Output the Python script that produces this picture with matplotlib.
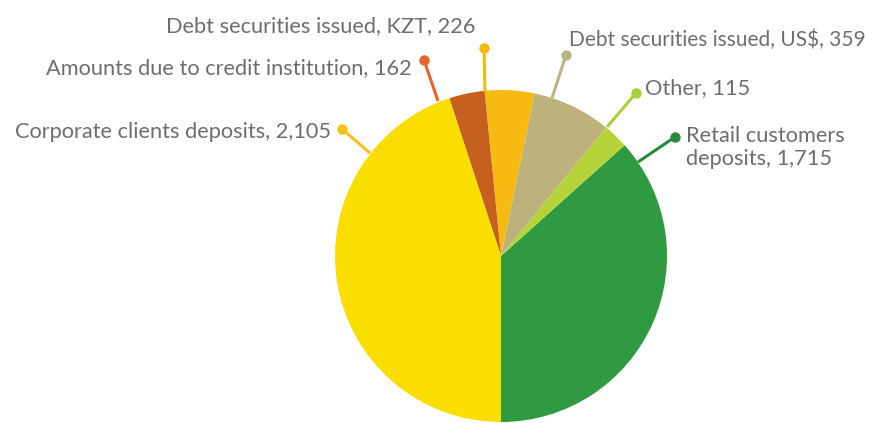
import matplotlib
matplotlib.use("Agg")
import matplotlib.pyplot as plt

# ---- data ----
categories = ["Retail customers deposits", "Other", "Debt securities issued, US$",
              "Debt securities issued, KZT", "Amounts due to credit institution",
              "Corporate clients deposits"]
values = [1715, 115, 359, 226, 162, 2105]
value_labels = ["1,715", "115", "359", "226", "162", "2,105"]

# ---- style ----
W, H = 872, 423
wedge_colors = ["#2f9a42", "#b6d43a", "#bdb27c", "#f6ba12", "#c6601f", "#f9de00"]
line_colors = ["#2a8a3c", "#a9d03a", "#bbb286", "#f5b80f", "#e8642a", "#f4c21c"]
text_color = "#6d6e70"
font = "Lato"
fs = 15.7

fig = plt.figure(figsize=(W / 100, H / 100), dpi=100)
ax = fig.add_axes([0, 0, 1, 1])

cx, cy, r = 501, H - 256, 166
ax.pie(values, colors=wedge_colors, startangle=-90, counterclock=True,
       radius=r, center=(cx, cy), frame=True,
       wedgeprops=dict(linewidth=0))
ax.set_xlim(0, W)
ax.set_ylim(0, H)
ax.set_aspect("equal")
ax.axis("off")

def Y(p):
    return H - p

# leader lines: (dot xy, end xy) in pixel coords (top-left origin)
leaders = {
    0: ((675, 137), (638, 162)),
    1: ((636, 93), (607, 127)),
    2: ((566, 55), (552, 98)),
    3: ((484, 48), (485, 92)),
    4: ((424, 60), (438, 101)),
    5: ((342, 129), (370, 153)),
}
for i, ((dx, dy), (ex, ey)) in leaders.items():
    ax.plot([dx, ex], [Y(dy), Y(ey)], color=line_colors[i], lw=2.2,
            solid_capstyle="butt", zorder=3)
    ax.plot([dx], [Y(dy)], "o", color=line_colors[i], ms=7.5, mec="none", zorder=4)

def lab(i):
    return f"{categories[i]}, {value_labels[i]}"

kw = dict(color=text_color, family=font, va="baseline")
# right side
ax.text(866, Y(46), lab(2), ha="right", fontsize=15.0, **kw)
ax.text(645, Y(94), lab(1), ha="left", fontsize=fs, **kw)
ax.text(686, Y(142), "Retail customers", ha="left", fontsize=fs, **kw)
ax.text(686, Y(165), f"deposits, {value_labels[0]}", ha="left", fontsize=fs, **kw)
# left side
ax.text(475, Y(32), lab(3), ha="right", fontsize=fs, **kw)
ax.text(412, Y(74), lab(4), ha="right", fontsize=fs, **kw)
ax.text(331, Y(138), lab(5), ha="right", fontsize=fs, **kw)

fig.savefig("out.png", dpi=100)
